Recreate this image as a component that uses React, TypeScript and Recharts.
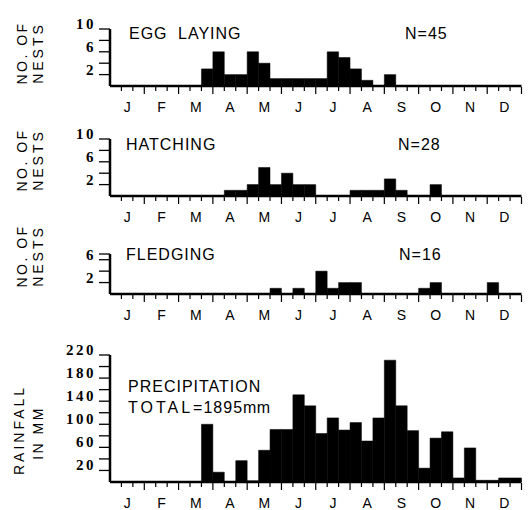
import { Bar, BarChart, XAxis, YAxis } from "recharts";

const SANS = "'Liberation Sans', Arial, sans-serif";
const SERIF = "'Liberation Serif', 'Times New Roman', serif";

// 36 ten-day periods, three per month
const MONTHS = ["J", "F", "M", "A", "M", "J", "J", "A", "S", "O", "N", "D"];
const PERIODS = ["1-10", "11-20", "21-31"];
const BINS = MONTHS.flatMap((_, mi) => PERIODS.map((p) => `${mi + 1}/${p}`));

const EGG_LAYING = [0, 0, 0, 0, 0, 0, 0, 0, 3, 6, 2, 2, 6, 4, 1.3, 1.3, 1.3, 1.3, 1.3, 6, 5, 3, 1, 0, 2, 0, 0, 0, 0, 0, 0, 0, 0, 0, 0, 0];
const HATCHING = [0, 0, 0, 0, 0, 0, 0, 0, 0, 0, 1, 1, 2, 5, 2, 4, 2, 2, 0, 0, 0, 1, 1, 1, 3, 1, 0, 0, 2, 0, 0, 0, 0, 0, 0, 0];
const FLEDGING = [0, 0, 0, 0, 0, 0, 0, 0, 0, 0, 0, 0, 0, 0, 1, 0, 1, 0, 4, 1, 2, 2, 0, 0, 0, 0, 0, 1, 2, 0, 0, 0, 0, 2, 0, 0];
const RAINFALL = [0, 0, 0, 0, 0, 0, 0, 0, 100, 17, 0, 37, 2, 55, 91, 91, 151, 132, 84, 111, 90, 103, 71, 111, 211, 132, 89, 24, 76, 87, 7, 59, 3, 3, 7, 7];

const NEST_TICKS = [2, 4, 6, 8, 10];
const NEST_LABELS = [2, 6, 10];
const FLEDGE_TICKS = [2, 4, 6, 7];
const FLEDGE_LABELS = [2, 6];
const RAIN_TICKS = [20, 40, 60, 80, 100, 120, 140, 160, 180, 200, 220];
const RAIN_LABELS = [20, 60, 100, 140, 180, 220];

const W = 531;
const LEFT = 110;
const RIGHT = 9.5;
const YW = 60;
const BW = (W - LEFT - RIGHT) / BINS.length;
const MT = 12;
const XH = 34;

function MonthTick(props: any) {
  const { x, y } = props;
  const index = props.index ?? props.payload?.index ?? 0;
  const long = index % 3 === 0;
  return (
    <g>
      {index > 0 && (
        <line x1={x - BW / 2} x2={x - BW / 2} y1={y + 1} y2={y + (long ? 8 : 5)} stroke="#000" strokeWidth={1.2} />
      )}
      {index === BINS.length - 1 && (
        <line x1={x + BW / 2} x2={x + BW / 2} y1={y + 1} y2={y + 8} stroke="#000" strokeWidth={1.2} />
      )}
      {index % 3 === 1 && (
        <text x={x} y={y + 26} textAnchor="middle" fontFamily={SANS} fontSize={14} fill="#000">
          {MONTHS[(index - 1) / 3]}
        </text>
      )}
    </g>
  );
}

function ValueTick(props: any) {
  const { x, y, payload, labels } = props;
  return (
    <g>
      <line x1={x - 11} x2={x} y1={y} y2={y} stroke="#000" strokeWidth={1.3} />
      {labels.includes(payload.value) && (
        <text x={x - 14} y={y} textAnchor="end" fontFamily={SERIF} fontWeight={700} fontSize={15} letterSpacing={2.5} fill="#000">
          {payload.value}
        </text>
      )}
    </g>
  );
}

type PanelProps = {
  values: number[];
  yMax: number;
  yTicks: number[];
  yLabels: number[];
  plotTop: number;
  base: number;
};

function Panel({ values, yMax, yTicks, yLabels, plotTop, base }: PanelProps) {
  const data = BINS.map((bin, i) => ({ bin, v: values[i] }));
  const height = base - plotTop + MT + XH;
  return (
    <div style={{ position: "absolute", left: 0, top: plotTop - MT }}>
      <BarChart
        width={W}
        height={height}
        data={data}
        margin={{ top: MT, right: RIGHT, left: LEFT - YW, bottom: 0 }}
        barCategoryGap={0}
        barGap={0}
      >
        <XAxis
          dataKey="bin"
          interval={0}
          height={XH}
          tickSize={0}
          tickMargin={0}
          tickLine={false}
          axisLine={{ stroke: "#000", strokeWidth: 2.5 }}
          tick={(p: any) => <MonthTick {...p} />}
        />
        <YAxis
          type="number"
          domain={[0, yMax]}
          ticks={yTicks}
          interval={0}
          width={YW}
          tickSize={0}
          tickMargin={0}
          tickLine={false}
          allowDataOverflow
          axisLine={{ stroke: "#000", strokeWidth: 2.5 }}
          tick={(p: any) => <ValueTick {...p} labels={yLabels} />}
        />
        <Bar dataKey="v" fill="#000" stroke="#000" strokeWidth={0.5} barSize={BW - 0.01} isAnimationActive={false} />
      </BarChart>
    </div>
  );
}

function SideLabel({ x, y, text, spacing }: { x: number; y: number; text: string; spacing: number }) {
  return (
    <text
      transform={`translate(${x},${y}) rotate(-90)`}
      textAnchor="middle"
      dominantBaseline="central"
      fontFamily={SANS}
      fontSize={14}
      letterSpacing={spacing}
      fill="#000"
    >
      {text}
    </text>
  );
}

function Title({ x, y, children }: { x: number; y: number; children: any }) {
  return (
    <text x={x} y={y} fontFamily={SANS} fontSize={16} letterSpacing={1} wordSpacing={5} fill="#000">
      {children}
    </text>
  );
}

export default function App() {
  return (
    <div style={{ position: "absolute", left: 0, top: 0, width: W, height: 510, background: "#fff" }}>
      <Panel values={EGG_LAYING} yMax={10} yTicks={NEST_TICKS} yLabels={NEST_LABELS} plotTop={28.5} base={85.5} />
      <Panel values={HATCHING} yMax={10} yTicks={NEST_TICKS} yLabels={NEST_LABELS} plotTop={138.5} base={195.5} />
      <Panel values={FLEDGING} yMax={7} yTicks={FLEDGE_TICKS} yLabels={FLEDGE_LABELS} plotTop={254} base={294} />
      <Panel values={RAINFALL} yMax={220} yTicks={RAIN_TICKS} yLabels={RAIN_LABELS} plotTop={355} base={482} />

      <svg width={W} height={510} style={{ position: "absolute", left: 0, top: 0, pointerEvents: "none" }}>
        <SideLabel x={22} y={53} text="NO. OF" spacing={2.5} />
        <SideLabel x={38} y={53} text="NESTS" spacing={3} />
        <SideLabel x={22} y={160} text="NO. OF" spacing={2.5} />
        <SideLabel x={38} y={160} text="NESTS" spacing={3} />
        <SideLabel x={22} y={256} text="NO. OF" spacing={2.5} />
        <SideLabel x={38} y={256} text="NESTS" spacing={3} />
        <SideLabel x={19} y={430} text="RAINFALL" spacing={3} />
        <SideLabel x={38} y={433} text="IN MM" spacing={2.5} />

        <Title x={129} y={39}>EGG LAYING</Title>
        <Title x={405} y={39}>N=45</Title>
        <Title x={126} y={150}>HATCHING</Title>
        <Title x={398} y={150}>N=28</Title>
        <Title x={126} y={260}>FLEDGING</Title>
        <Title x={399} y={260}>N=16</Title>
        <Title x={128} y={392}>PRECIPITATION</Title>
        <text x={128} y={413} fontFamily={SANS} fontSize={16} fill="#000">
          <tspan letterSpacing={3}>TOTAL</tspan>
          <tspan letterSpacing={1}>=1895</tspan>
          <tspan letterSpacing={0.5}>mm</tspan>
        </text>
      </svg>
    </div>
  );
}
